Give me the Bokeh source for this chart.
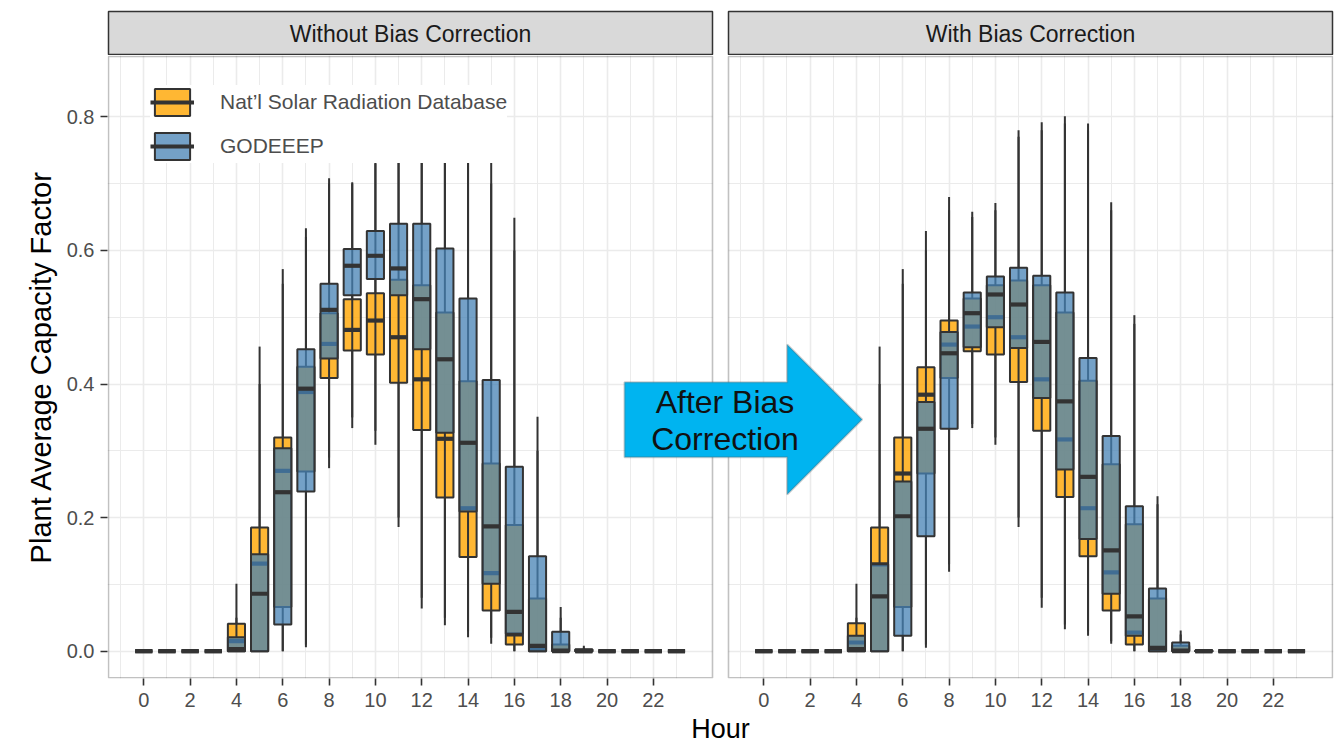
from bokeh.plotting import figure
from bokeh.models import (ColumnDataSource, Range1d, FixedTicker, Legend, LegendItem,
                          PolyAnnotation, Label, BoxAnnotation)
from bokeh.layouts import column, row
from bokeh.transform import dodge
from bokeh.embed import file_html
from bokeh.resources import INLINE
from bokeh.core.properties import value

FONT = "Liberation Sans"

# ---------------- data ----------------
hours = list(range(24))
x_ticks = list(range(0, 24, 2))
x_tick_labels = [str(h) for h in x_ticks]
x_minor = list(range(-1, 25, 2))
y_ticks = [0.0, 0.2, 0.4, 0.6, 0.8]
y_tick_labels = ["0.0", "0.2", "0.4", "0.6", "0.8"]
y_minor = [0.1, 0.3, 0.5, 0.7]
panel_titles = ["Without Bias Correction", "With Bias Correction"]
series_labels = ["Nat\u2019l Solar Radiation Database", "GODEEEP"]
x_title = "Hour"
y_title = "Plant Average Capacity Factor"
arrow_text = ["After Bias", "Correction"]

# Without bias correction - NSRDB
wo_nsrdb_lw = [0, 0, 0, 0, 0, 0, 0, 0.006, 0.274, 0.334, 0.309, 0.186, 0.064, 0.039, 0.021, 0.011, 0, 0, 0, 0, 0, 0, 0, 0]
wo_nsrdb_q1 = [0, 0, 0, 0, 0, 0, 0.066, 0.269, 0.409, 0.450, 0.444, 0.402, 0.331, 0.230, 0.141, 0.061, 0.010, 0, 0, 0, 0, 0, 0, 0]
wo_nsrdb_med = [0, 0, 0, 0, 0.015, 0.131, 0.270, 0.388, 0.460, 0.481, 0.495, 0.470, 0.407, 0.318, 0.214, 0.117, 0.025, 0.002, 0, 0, 0, 0, 0, 0]
wo_nsrdb_q3 = [0, 0, 0, 0, 0.041, 0.185, 0.320, 0.426, 0.506, 0.527, 0.536, 0.556, 0.548, 0.507, 0.404, 0.281, 0.189, 0.079, 0.010, 0.002, 0, 0, 0, 0]
wo_nsrdb_uw = [0, 0, 0, 0, 0.101, 0.456, 0.572, 0.633, 0.708, 0.702, 0.735, 0.790, 0.800, 0.800, 0.780, 0.700, 0.600, 0.300, 0.050, 0.005, 0, 0, 0, 0]
# Without bias correction - GODEEEP
wo_god_lw = [0, 0, 0, 0, 0, 0, 0, 0.010, 0.290, 0.350, 0.330, 0.200, 0.080, 0.050, 0.030, 0.020, 0, 0, 0, 0, 0, 0, 0, 0]
wo_god_q1 = [0, 0, 0, 0, 0, 0, 0.040, 0.239, 0.438, 0.533, 0.557, 0.533, 0.452, 0.327, 0.209, 0.101, 0.026, 0, 0, 0, 0, 0, 0, 0]
wo_god_med = [0, 0, 0, 0, 0.003, 0.086, 0.238, 0.393, 0.511, 0.577, 0.592, 0.573, 0.527, 0.437, 0.312, 0.187, 0.059, 0.008, 0.001, 0, 0, 0, 0, 0]
wo_god_q3 = [0, 0, 0, 0, 0.021, 0.145, 0.304, 0.452, 0.550, 0.602, 0.629, 0.640, 0.640, 0.603, 0.528, 0.406, 0.276, 0.142, 0.029, 0.003, 0, 0, 0, 0]
wo_god_uw = [0, 0, 0, 0, 0.050, 0.400, 0.550, 0.620, 0.700, 0.700, 0.730, 0.800, 0.810, 0.820, 0.800, 0.760, 0.649, 0.351, 0.066, 0.008, 0, 0, 0, 0]

# With bias correction - NSRDB
w_nsrdb_lw = [0, 0, 0, 0, 0, 0, 0, 0.005, 0.119, 0.334, 0.309, 0.186, 0.065, 0.033, 0.023, 0.011, 0, 0, 0, 0, 0, 0, 0, 0]
w_nsrdb_q1 = [0, 0, 0, 0, 0, 0, 0.066, 0.266, 0.409, 0.449, 0.444, 0.403, 0.330, 0.231, 0.142, 0.061, 0.010, 0, 0, 0, 0, 0, 0, 0]
w_nsrdb_med = [0, 0, 0, 0, 0.013, 0.130, 0.266, 0.384, 0.459, 0.486, 0.500, 0.470, 0.407, 0.317, 0.214, 0.118, 0.028, 0.002, 0, 0, 0, 0, 0, 0]
w_nsrdb_q3 = [0, 0, 0, 0, 0.042, 0.185, 0.320, 0.425, 0.495, 0.528, 0.548, 0.555, 0.548, 0.507, 0.405, 0.280, 0.190, 0.079, 0.008, 0.001, 0, 0, 0, 0]
w_nsrdb_uw = [0, 0, 0, 0, 0.101, 0.456, 0.572, 0.629, 0.680, 0.658, 0.671, 0.780, 0.792, 0.801, 0.790, 0.672, 0.503, 0.232, 0.031, 0.002, 0, 0, 0, 0]
# With bias correction - GODEEEP
w_god_lw = [0, 0, 0, 0, 0, 0, 0, 0.010, 0.130, 0.340, 0.320, 0.200, 0.080, 0.040, 0.030, 0.015, 0, 0, 0, 0, 0, 0, 0, 0]
w_god_q1 = [0, 0, 0, 0, 0, 0, 0.023, 0.172, 0.333, 0.455, 0.485, 0.454, 0.379, 0.272, 0.168, 0.086, 0.023, 0, 0, 0, 0, 0, 0, 0]
w_god_med = [0, 0, 0, 0, 0.003, 0.082, 0.202, 0.333, 0.446, 0.506, 0.534, 0.519, 0.463, 0.374, 0.261, 0.151, 0.052, 0.005, 0.001, 0, 0, 0, 0, 0]
w_god_q3 = [0, 0, 0, 0, 0.023, 0.130, 0.254, 0.373, 0.478, 0.537, 0.561, 0.574, 0.562, 0.537, 0.439, 0.322, 0.217, 0.094, 0.013, 0.001, 0, 0, 0, 0]
w_god_uw = [0, 0, 0, 0, 0.050, 0.400, 0.550, 0.600, 0.660, 0.650, 0.660, 0.770, 0.780, 0.790, 0.780, 0.660, 0.490, 0.220, 0.025, 0.003, 0, 0, 0, 0]

# ---------------- geometry / style ----------------
ORANGE, ORANGE_ALPHA = "#FFA500", 0.8
BLUE, BLUE_ALPHA = "#4682B4", 0.75
DARK = "#333333"
GRID = "#EBEBEB"
BOX_W = 0.74

# page geometry (pixels) of the reference layout
X0_PX = 143.3          # page x of hour 0 in left panel
PPU = 23.16            # pixels per hour
Y0_PX = 650.7          # page y of value 0
PPY = 668.0            # pixels per unit of capacity factor
OFFSET = 620.0 / PPU   # data offset of the right panel
CANVAS_W = 1340
STRIP_H = 55
MAIN_H = 691
FRAME_L, FRAME_R, FRAME_T, FRAME_B = 107, 1333, 55, 678


def px_x(px):
    return (px - X0_PX) / PPU


def px_y(py):
    return (Y0_PX - py) / PPY


def src(lw, q1, med, q3, uw):
    return ColumnDataSource(dict(hour=hours, lw=lw, q1=q1, med=med, q3=q3, uw=uw))


def draw_series(p, s, off, color, alpha):
    xc = dodge("hour", off)
    p.segment(x0=xc, y0="q3", x1=xc, y1="uw", source=s, line_color=DARK, line_width=2)
    p.segment(x0=xc, y0="q1", x1=xc, y1="lw", source=s, line_color=DARK, line_width=2)
    box = p.vbar(x=xc, width=BOX_W, bottom="q1", top="q3", source=s,
                 fill_color=color, fill_alpha=alpha, line_color=DARK, line_width=2)
    med = p.segment(x0=dodge("hour", off - BOX_W / 2), x1=dodge("hour", off + BOX_W / 2),
                    y0="med", y1="med", source=s, line_color=DARK, line_width=4.2)
    return box, med


# ---------------- strips ----------------
def make_strip(title, left):
    s = figure(width=720 if left else CANVAS_W - 720, height=STRIP_H,
               x_range=Range1d(0, 1), y_range=Range1d(0, 1),
               output_backend="svg", toolbar_location=None,
               x_axis_location=None, y_axis_location=None,
               min_border_left=108 if left else 8, min_border_right=8,
               min_border_top=11, min_border_bottom=0,
               background_fill_color="#D9D9D9", border_fill_color="white")
    s.grid.visible = False
    s.outline_line_color = DARK
    s.outline_line_width = 1.5
    s.text(x=[0.5], y=[0.5], text=[title], text_align="center", text_baseline="middle",
           text_font=value(FONT), text_font_size="23px", text_color="#1A1A1A")
    return s


strip_l = make_strip(panel_titles[0], True)
strip_r = make_strip(panel_titles[1], False)

# ---------------- main panels (one frame, two facets) ----------------
p = figure(width=CANVAS_W, height=MAIN_H,
           x_range=Range1d(px_x(FRAME_L), px_x(FRAME_R)),
           y_range=Range1d(px_y(FRAME_B), px_y(FRAME_T)),
           output_backend="svg", toolbar_location=None,
           min_border_left=FRAME_L, min_border_right=CANVAS_W - FRAME_R,
           min_border_top=0, min_border_bottom=MAIN_H - (FRAME_B - FRAME_T),
           background_fill_color="white", border_fill_color="white")
p.outline_line_color = None

all_x_ticks = x_ticks + [t + OFFSET for t in x_ticks]
all_x_minor = x_minor + [t + OFFSET for t in x_minor]
tick_x = FixedTicker(ticks=all_x_ticks, minor_ticks=all_x_minor)
p.xaxis.ticker = tick_x
p.xgrid.ticker = tick_x
p.xaxis.major_label_overrides = dict(zip(all_x_ticks, x_tick_labels + x_tick_labels))
tick_y = FixedTicker(ticks=y_ticks, minor_ticks=y_minor)
p.yaxis.ticker = tick_y
p.ygrid.ticker = tick_y
p.yaxis.major_label_overrides = dict(zip(y_ticks, y_tick_labels))

for ax in (p.xaxis, p.yaxis):
    ax.axis_line_color = None
    ax.major_tick_line_color = DARK
    ax.major_tick_line_width = 1.6
    ax.major_tick_out = 7
    ax.major_tick_in = 0
    ax.minor_tick_line_color = None
    ax.major_label_text_font = FONT
    ax.major_label_text_font_size = "20px"
    ax.major_label_text_color = "#4D4D4D"
    ax.axis_label_text_font = FONT
    ax.axis_label_text_font_style = "normal"
    ax.axis_label_text_color = "black"
p.xaxis.major_label_standoff = 7
p.yaxis.major_label_standoff = 6
p.xaxis.axis_label = x_title
p.xaxis.axis_label_text_font_size = "27px"
p.xaxis.axis_label_standoff = 4
p.yaxis.axis_label = y_title
p.yaxis.axis_label_text_font_size = "29px"
p.yaxis.axis_label_standoff = 7

for g in (p.xgrid, p.ygrid):
    g.grid_line_color = GRID
    g.grid_line_width = 1.6
    g.minor_grid_line_color = GRID
    g.minor_grid_line_width = 1.0

# white gap between the two facets
p.add_layout(BoxAnnotation(left=px_x(712), right=px_x(728), fill_color="white", fill_alpha=1.0,
                           line_color=None, level="underlay"))

box_o, med_o = draw_series(p, src(wo_nsrdb_lw, wo_nsrdb_q1, wo_nsrdb_med, wo_nsrdb_q3, wo_nsrdb_uw),
                           0.0, ORANGE, ORANGE_ALPHA)
box_b, med_b = draw_series(p, src(wo_god_lw, wo_god_q1, wo_god_med, wo_god_q3, wo_god_uw),
                           0.0, BLUE, BLUE_ALPHA)
draw_series(p, src(w_nsrdb_lw, w_nsrdb_q1, w_nsrdb_med, w_nsrdb_q3, w_nsrdb_uw),
            OFFSET, ORANGE, ORANGE_ALPHA)
draw_series(p, src(w_god_lw, w_god_q1, w_god_med, w_god_q3, w_god_uw),
            OFFSET, BLUE, BLUE_ALPHA)

# panel borders
for lpx, rpx in ((108, 712), (728, 1332)):
    p.add_layout(BoxAnnotation(left=px_x(lpx), right=px_x(rpx), top=px_y(56), bottom=px_y(677.3),
                               fill_alpha=0.0, line_color=DARK, line_width=1.6))

# arrow between the facets
arrow_px = [(624, 381.7), (786.7, 381.7), (786.7, 344), (861.7, 419),
            (786.7, 494), (786.7, 456.7), (624, 456.7)]
p.add_layout(PolyAnnotation(xs=[px_x(a) for a, b in arrow_px], ys=[px_y(b) for a, b in arrow_px],
                            fill_color="#00B4F0", fill_alpha=1.0,
                            line_color="#606060", line_width=2))
for txt, py in zip(arrow_text, [401.7, 438.3]):
    p.add_layout(Label(x=px_x(724.5), y=px_y(py), text=txt, text_align="center",
                       text_baseline="middle", text_font=FONT, text_font_size="32px",
                       text_color="#111111"))

# legend
legend = Legend(items=[LegendItem(label=series_labels[0], renderers=[box_o, med_o]),
                       LegendItem(label=series_labels[1], renderers=[box_b, med_b])],
                location=(43, 515),
                glyph_width=44, glyph_height=34, label_standoff=26,
                padding=10, spacing=10, margin=0,
                background_fill_color="white", background_fill_alpha=1.0,
                border_line_color=None,
                label_text_font=FONT, label_text_font_size="21px",
                label_text_color="#4D4D4D")
p.add_layout(legend)

layout = column(row(strip_l, strip_r, spacing=0), p, spacing=0)

open("out.html", "w").write(file_html(layout, INLINE))
